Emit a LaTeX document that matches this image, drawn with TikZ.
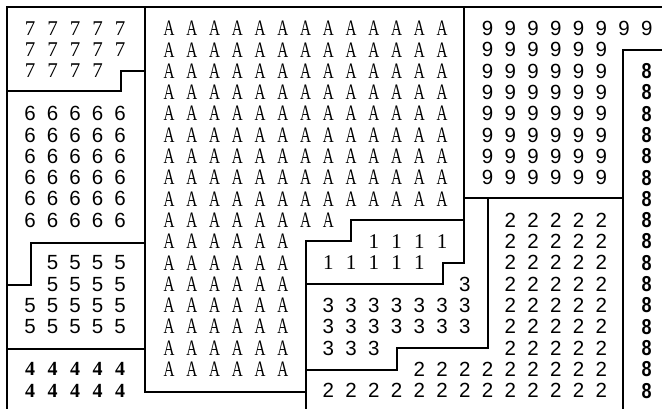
\documentclass[tikz,border=0pt]{standalone}
\usepackage{fontspec}
\setmainfont{Liberation Serif}
\newfontfamily\sansf{Liberation Sans}
\newcommand\colx[1]{169+22.75*#1}
\newcommand\rowy[1]{28.5+21.3*#1}
% row of cells on the main grid: style, text, name, row, first col, last col
\newcommand\gridrow[6]{\foreach \jj in {#5,...,#6}{\node[#1] (#3-#4-\jj) at ({\colx{\jj}},{\rowy{#4}}) {#2};}}
% row of cells on the left grid
\newcommand\leftrow[6]{\foreach \cc in {#5,...,#6}{\node[#1] (#3-#4-\cc) at ({30+22.5*\cc},{\rowy{#4}}) {#2};}}
\begin{document}
\begin{tikzpicture}[x=1pt,y=-1pt,
  wall/.style={line width=1.3pt, line cap=rect, line join=miter},
  ser/.style={font=\fontsize{21}{21}\selectfont, inner sep=0pt},
  serb/.style={font=\bfseries\fontsize{20}{20}\selectfont, inner sep=0pt},
  san/.style={font=\sansf\fontsize{20.5}{20.5}\selectfont, inner sep=0pt},
  sanb/.style={font=\sansf\bfseries\fontsize{20}{20}\selectfont, inner sep=0pt},
  lta/.style={font=\fontsize{21}{21}\selectfont, inner sep=0pt}]
\useasboundingbox (0,0) rectangle (662,409);
\fill[white] (0,0) rectangle (662,409);
% boundaries
\draw[wall] (7,409) -- (7,7) -- (662,7);
\draw[wall] (7,91) -- (121,91) -- (121,71) -- (145,71);
\draw[wall] (145,7) -- (145,392) -- (306,392);
\draw[wall] (7,285) -- (31,285) -- (31,243) -- (145,243);
\draw[wall] (7,349) -- (145,349);
\draw[wall] (306,409) -- (306,241) -- (351,241) -- (351,220) -- (464,220);
\draw[wall] (464,7) -- (464,263) -- (443,263) -- (443,284) -- (306,284);
\draw[wall] (464,198) -- (623,198);
\draw[wall] (623,409) -- (623,50) -- (662,50);
\draw[wall] (488,198) -- (488,348) -- (397,348) -- (397,370) -- (306,370);
% region 7
\leftrow{ser}{7}{s}{0}{0}{4}
\leftrow{ser}{7}{s}{1}{0}{4}
\leftrow{ser}{7}{s}{2}{0}{3}
% region 6
\foreach \k in {4,...,9}{\leftrow{san}{6}{x}{\k}{0}{4}}
% region 5
\leftrow{san}{5}{f}{11}{1}{4}
\leftrow{san}{5}{f}{12}{1}{4}
\leftrow{san}{5}{f}{13}{0}{4}
\leftrow{san}{5}{f}{14}{0}{4}
% region 4
\leftrow{serb}{4}{q}{16}{0}{4}
\leftrow{serb}{4}{q}{17}{0}{4}
% region A
\foreach \k in {0,...,8}{\gridrow{lta}{\scalebox{0.72}[1.05]{A}}{a}{\k}{0}{12}}
\gridrow{lta}{\scalebox{0.72}[1.05]{A}}{a}{9}{0}{7}
\foreach \k in {10,...,16}{\gridrow{lta}{\scalebox{0.72}[1.05]{A}}{a}{\k}{0}{5}}
% region 1
\gridrow{ser}{1}{o}{10}{9}{12}
\gridrow{ser}{1}{o}{11}{7}{11}
% region 3
\gridrow{san}{3}{t}{12}{13}{13}
\gridrow{san}{3}{t}{13}{7}{13}
\gridrow{san}{3}{t}{14}{7}{13}
\gridrow{san}{3}{t}{15}{7}{9}
% region 2
\foreach \k in {9,...,15}{\gridrow{san}{2}{w}{\k}{15}{19}}
\gridrow{san}{2}{w}{16}{11}{19}
\gridrow{san}{2}{w}{17}{7}{19}
% region 9
\gridrow{san}{9}{n}{0}{14}{21}
\foreach \k in {1,...,7}{\gridrow{san}{9}{n}{\k}{14}{19}}
% region 8
\foreach \k in {2,...,17}{\gridrow{sanb}{\scalebox{0.9}[1.08]{8}}{e}{\k}{21}{21}}
\end{tikzpicture}
\end{document}
